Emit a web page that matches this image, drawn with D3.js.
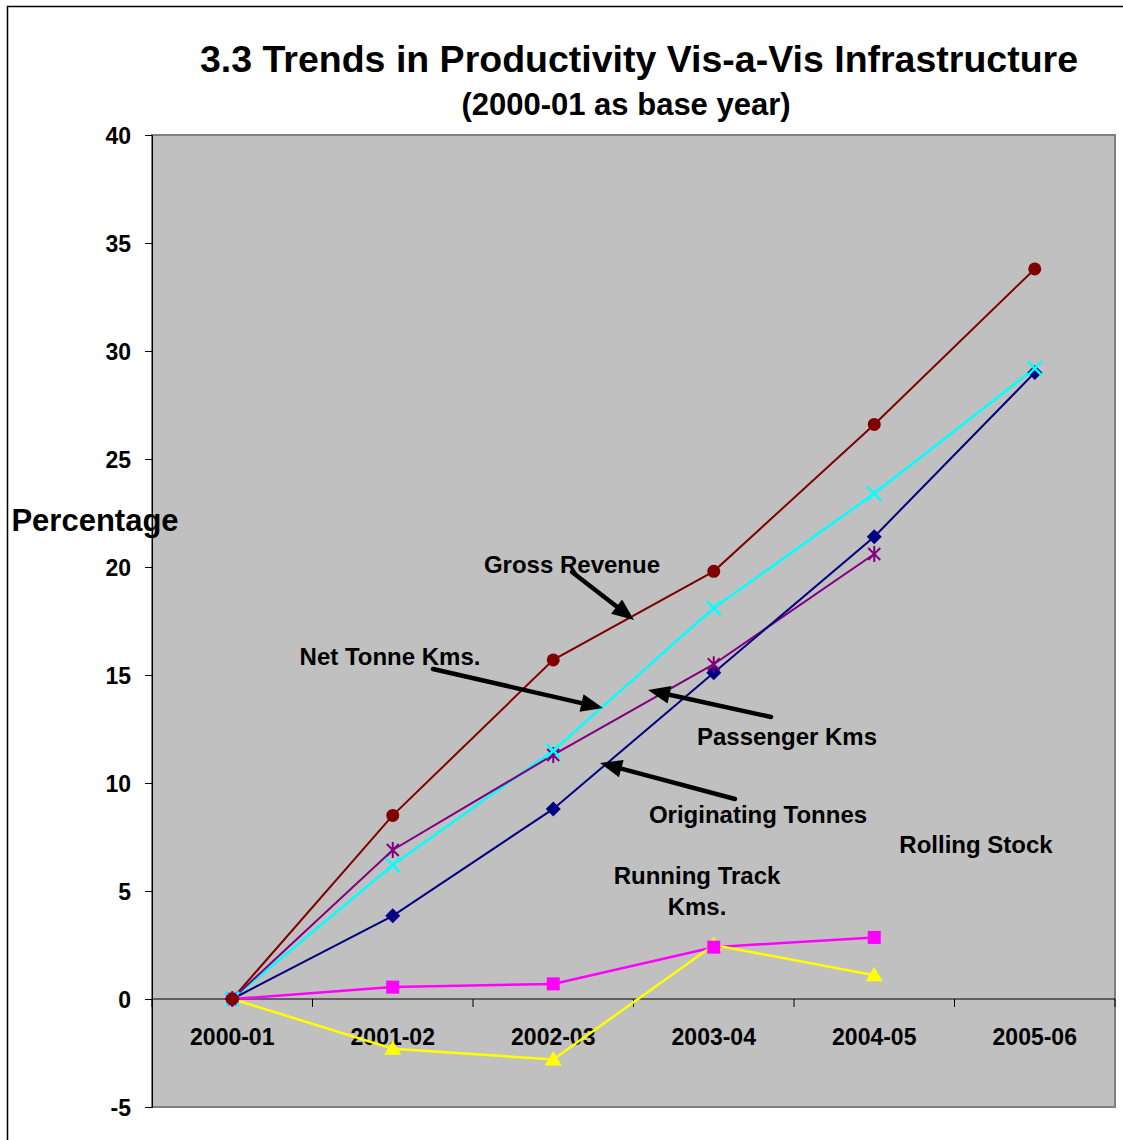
<!DOCTYPE html>
<html><head><meta charset="utf-8">
<script src="https://cdn.jsdelivr.net/npm/d3@7"></script>
<style>body{margin:0;background:#fff;font-family:"Liberation Sans",Arial,sans-serif;}</style>
</head><body>
<svg id="c" width="1123" height="1140"></svg>
<script>
const categories = ["2000-01","2001-02","2002-03","2003-04","2004-05","2005-06"];
const yTicks = [-5,0,5,10,15,20,25,30,35,40];
const grossRevenue = [0, 8.5, 15.7, 19.8, 26.6, 33.8];
const netTonneKms = [0, 6.2, 11.5, 18.1, 23.4, 29.2];
const passengerKms = [0, 6.9, 11.3, 15.5, 20.6, null];
const originatingTonnes = [0, 3.85, 8.8, 15.1, 21.4, 29.0];
const runningTrackKms = [0, 0.55, 0.7, 2.4, 2.85, null];
const rollingStock = [0, -2.3, -2.8, 2.5, 1.1, null];

const series = [
  {name:"Gross Revenue", values:grossRevenue, color:"#800000", marker:"circle"},
  {name:"Net Tonne Kms.", values:netTonneKms, color:"#00ffff", marker:"x"},
  {name:"Passenger Kms", values:passengerKms, color:"#800080", marker:"star"},
  {name:"Originating Tonnes", values:originatingTonnes, color:"#000080", marker:"diamond"},
  {name:"Running Track Kms.", values:runningTrackKms, color:"#ff00ff", marker:"square"},
  {name:"Rolling Stock", values:rollingStock, color:"#ffff00", marker:"triangle"}
];

const svg = d3.select("#c");
const L=152, T=135, R=1115, B=1107;
svg.append("rect").attr("x",7.5).attr("y",6.5).attr("width",1130).attr("height",1150)
  .attr("fill","#fff").attr("stroke","#000").attr("stroke-width",1.5);

const x = d3.scaleBand().domain(categories).range([L,R]);
const y = d3.scaleLinear().domain([-5,40]).range([B,T]);

svg.append("rect").attr("x",L).attr("y",T).attr("width",R-L).attr("height",B-T)
  .attr("fill","#c0c0c0").attr("stroke","#808080").attr("stroke-width",2);

const FONT = "Liberation Sans, Arial, sans-serif";
const ya = svg.append("g").attr("transform",`translate(${L},0)`)
  .call(d3.axisLeft(y).tickValues(yTicks).tickFormat(d=>String(d)).tickSize(7).tickPadding(14));
ya.select(".domain").attr("stroke","#000").attr("stroke-width",1);
ya.selectAll("line").attr("stroke","#000");
ya.selectAll("text").attr("font-family",FONT)
  .attr("font-size",23).attr("font-weight","bold").attr("fill","#000").attr("dy","0.35em");

const xa = svg.append("g").attr("transform",`translate(0,${y(0)})`)
  .call(d3.axisBottom(x).tickSize(0).tickPadding(30));
xa.select(".domain").remove();
xa.append("line").attr("x1",L).attr("x2",R).attr("stroke","#000").attr("stroke-width",1.2);
const bounds = categories.map((c,i)=>L + x.step()*i).concat([R]);
xa.selectAll(".tk").data(bounds).join("line").attr("class","tk")
  .attr("x1",d=>d).attr("x2",d=>d).attr("y1",0).attr("y2",8).attr("stroke","#000");
xa.selectAll("text").attr("font-family",FONT)
  .attr("font-size",23).attr("font-weight","bold").attr("fill","#000");

const cx = c => x(c) + x.bandwidth()/2;

series.forEach(s=>{
  const pts = categories.map((c,i)=>({c, v:s.values[i]})).filter(d=>d.v!==null);
  svg.append("path").datum(pts)
    .attr("d", d3.line().x(d=>cx(d.c)).y(d=>y(d.v)))
    .attr("fill","none").attr("stroke",s.color).attr("stroke-width",s.marker==="x"||s.marker==="triangle"||s.marker==="square"?2.5:2);
});
series.slice().reverse().forEach(s=>{
  const pts = categories.map((c,i)=>({c, v:s.values[i]})).filter(d=>d.v!==null);
  const g = svg.append("g");
  pts.forEach(d=>{
    const px=cx(d.c), py=y(d.v);
    const m = g.append("g").attr("transform",`translate(${px},${py})`);
    if(s.marker==="circle") m.append("circle").attr("r",6.5).attr("fill",s.color);
    else if(s.marker==="square") m.append("rect").attr("x",-6.5).attr("y",-6.5).attr("width",13).attr("height",13).attr("fill",s.color);
    else if(s.marker==="diamond") m.append("path").attr("d","M0,-7.5L7.5,0L0,7.5L-7.5,0Z").attr("fill",s.color);
    else if(s.marker==="triangle") m.append("path").attr("d","M0,-8.5L8.5,6L-8.5,6Z").attr("fill",s.color);
    else if(s.marker==="x") m.append("path").attr("d","M-7,-7L7,7M-7,7L7,-7").attr("stroke",s.color).attr("stroke-width",2.5);
    else if(s.marker==="star") m.append("path").attr("d","M-6,-6L6,6M-6,6L6,-6M0,-8L0,8").attr("stroke",s.color).attr("stroke-width",2);
  });
});

svg.append("text").attr("x",639).attr("y",72).attr("text-anchor","middle").attr("font-family",FONT)
  .attr("font-size",37.5).attr("font-weight","bold").text("3.3 Trends in Productivity Vis-a-Vis Infrastructure");
svg.append("text").attr("x",626).attr("y",115).attr("text-anchor","middle").attr("font-family",FONT)
  .attr("font-size",31).attr("font-weight","bold").text("(2000-01 as base year)");
svg.append("text").attr("x",95).attr("y",531).attr("text-anchor","middle").attr("font-family",FONT)
  .attr("font-size",31).attr("font-weight","bold").text("Percentage");

const ann = [
  {t:["Gross Revenue"], x:572, y:565},
  {t:["Net Tonne Kms."], x:390, y:657},
  {t:["Passenger Kms"], x:787, y:737},
  {t:["Originating Tonnes"], x:758, y:815},
  {t:["Running Track","Kms."], x:697, y:876},
  {t:["Rolling Stock"], x:976, y:845}
];
ann.forEach(a=>{
  a.t.forEach((line,i)=>{
    svg.append("text").attr("x",a.x).attr("y",a.y+i*31).attr("dy","0.35em").attr("text-anchor","middle")
      .attr("font-family",FONT).attr("font-size",24).attr("font-weight","bold").text(line);
  });
});
const arrows = [
  [572,572,634,620],
  [433,669,603,708],
  [771,717,648,690],
  [735,799,600,763]
];
arrows.forEach(a=>{
  const [x1,y1,x2,y2]=a;
  const ang=Math.atan2(y2-y1,x2-x1), hl=22, hw=9;
  const bx=x2-hl*Math.cos(ang), by=y2-hl*Math.sin(ang);
  svg.append("line").attr("x1",x1).attr("y1",y1).attr("x2",bx).attr("y2",by)
    .attr("stroke","#000").attr("stroke-width",4.5).attr("stroke-linecap","round");
  const px=-Math.sin(ang), py=Math.cos(ang);
  svg.append("path").attr("d",`M${x2},${y2}L${bx+hw*px},${by+hw*py}L${bx-hw*px},${by-hw*py}Z`).attr("fill","#000");
});
</script>
</body></html>
